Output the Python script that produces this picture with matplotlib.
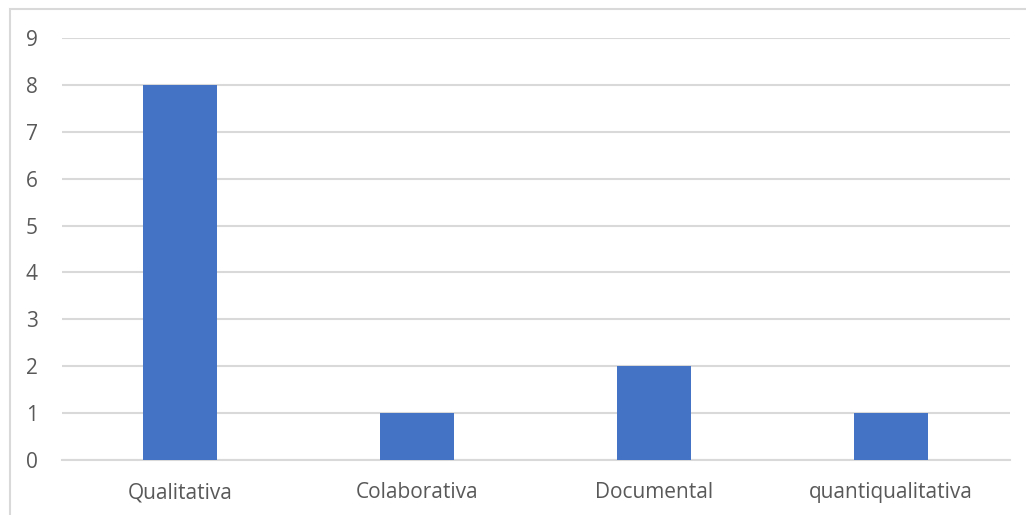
import matplotlib
matplotlib.use("Agg")
import matplotlib.pyplot as plt
from matplotlib.patches import Rectangle

categories = ["Qualitativa", "Colaborativa", "Documental", "quantiqualitativa"]
values = [8, 1, 2, 1]
yticks = list(range(0, 10))

W, H = 1026, 515
fig = plt.figure(figsize=(W / 100, H / 100), dpi=100)
plt.rcParams['font.family'] = ['Open Sans', 'DejaVu Sans']

x0, x1 = 61.5, 1009.5
y0, y1 = 460, 38
ax = fig.add_axes([x0 / W, 1 - y0 / H, (x1 - x0) / W, (y0 - y1) / H])

ax.bar(range(len(categories)), values, width=0.31, color="#4472C4", zorder=3)
ax.set_xlim(-0.5, len(categories) - 0.5)
ax.set_ylim(0, 9)
ax.set_yticks(yticks)
ax.set_xticks(range(len(categories)))
ax.set_xticklabels(categories)
ax.yaxis.grid(True, color="#D9D9D9", linewidth=1.5, zorder=0)
ax.xaxis.grid(False)
for s in ["top", "right", "left"]:
    ax.spines[s].set_visible(False)
ax.spines["bottom"].set_color("#D9D9D9")
ax.spines["bottom"].set_linewidth(1.5)
ax.tick_params(axis="both", length=0, colors="#595959", labelsize=15)
ax.tick_params(axis="y", pad=17)
ax.tick_params(axis="x", pad=16)

fig.patches.append(Rectangle((9.5 / W, -0.1), 1.2, 1.1 - 9 / H + 0.0,
                             transform=fig.transFigure, fill=False,
                             edgecolor="#D9D9D9", linewidth=1.5))

fig.savefig("out.png", dpi=100, facecolor="white")
